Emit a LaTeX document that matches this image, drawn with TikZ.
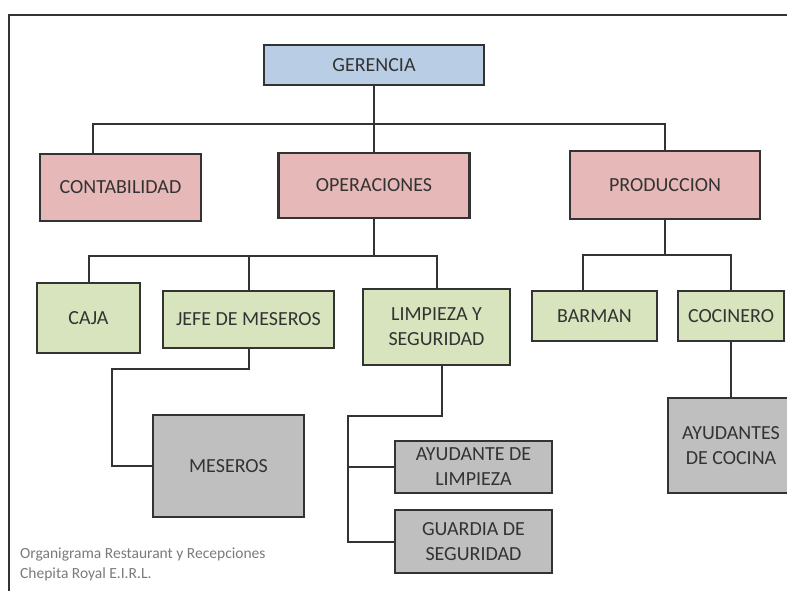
\documentclass[tikz,border=0pt]{standalone}
\usepackage{fontspec}
\setmainfont{Carlito}
\usetikzlibrary{positioning}
\definecolor{boxblue}{HTML}{B9CDE5}
\definecolor{boxpink}{HTML}{E6B9B8}
\definecolor{boxgreen}{HTML}{D7E4BD}
\definecolor{boxgray}{HTML}{BFBFBF}
\definecolor{boxline}{HTML}{333333}
\definecolor{boxtext}{HTML}{333333}
\definecolor{notegray}{HTML}{7A7A7A}
\begin{document}
\begin{tikzpicture}[x=1pt,y=-1pt,
  box/.style={draw=boxline,line width=2.2pt,text=boxtext,
    font=\fontsize{20}{25}\selectfont,align=center,inner sep=0pt},
  nivel0/.style={box,fill=boxblue},
  nivel1/.style={box,fill=boxpink},
  nivel2/.style={box,fill=boxgreen},
  nivel3/.style={box,fill=boxgray},
  linea/.style={draw=boxline,line width=2pt},
  nota/.style={text=notegray,font=\fontsize{15.5}{20}\selectfont,anchor=base west,inner sep=0pt}]
  \clip (0,0) rectangle (787,590);
  % the frame
  \draw[boxline,line width=2.5pt] (9,15) rectangle (800,600);

  % top
  \node[nivel0,minimum width=220,minimum height=40] (ger) at (374,65) {GERENCIA};

  % areas
  \node[nivel1,minimum width=161,minimum height=67] (cont) at (120.5,187.5) {CONTABILIDAD};
  \node[nivel1,minimum width=191,minimum height=65] (oper) at (374,185.5) {OPERACIONES};
  \node[nivel1,minimum width=190,minimum height=68] (prod) at (665,185) {PRODUCCION};

  % puestos
  \node[nivel2,minimum width=103,minimum height=70] (caja) at (88.5,318) {CAJA};
  \node[nivel2,minimum width=171,minimum height=57] (jefe) at (248.5,319.5) {JEFE DE MESEROS};
  \node[nivel2,minimum width=147,minimum height=76] (limp) at (436.5,327) {LIMPIEZA Y\\SEGURIDAD};
  \node[nivel2,minimum width=125,minimum height=50] (barman) at (594.5,316) {BARMAN};
  \node[nivel2,minimum width=106,minimum height=50] (coci) at (731,316) {COCINERO};

  % ayudantes
  \node[nivel3,minimum width=151,minimum height=102] (mes) at (228.5,466) {MESEROS};
  \node[nivel3,minimum width=157,minimum height=52] (ayul) at (473.5,467) {AYUDANTE DE\\LIMPIEZA};
  \node[nivel3,minimum width=157,minimum height=63] (guar) at (473.5,541.5) {GUARDIA DE\\SEGURIDAD};
  \node[nivel3,minimum width=126,minimum height=95] (ayuc) at (731,445.5) {AYUDANTES\\DE COCINA};

  % connectors
  \coordinate (bus1) at (374,124);
  \coordinate (bus2) at (374,256);
  \coordinate (bus3) at (665,255);
  \coordinate (m1) at (112,369);
  \coordinate (l1) at (348,416);

  \draw[linea] (ger) -- (oper);
  \draw[linea] ([xshift=-27.5pt]cont.north) |- (bus1) -| (prod.north);

  \draw[linea] (oper) -- (bus2);
  \draw[linea] (caja.north) |- (bus2) -| (limp.north);
  \draw[linea] (jefe.north) -- (jefe.north |- bus2);

  \draw[linea] (prod) -- (bus3);
  \draw[linea] ([xshift=-11.5pt]barman.north) |- (bus3) -| (coci.north);
  \draw[linea] (coci) -- (ayuc);

  \draw[linea] (jefe.south) |- (m1) |- (mes.west);
  \draw[linea] ([xshift=5.5pt]limp.south) |- (l1) |- (guar.west);
  \draw[linea] (l1 |- ayul.west) -- (ayul.west);

  % note
  \node[nota] (nota1) at (20,558) {Organigrama Restaurant y Recepciones};
  \node[nota] (nota2) at (20,578) {Chepita Royal E.I.R.L.};
\end{tikzpicture}
\end{document}
